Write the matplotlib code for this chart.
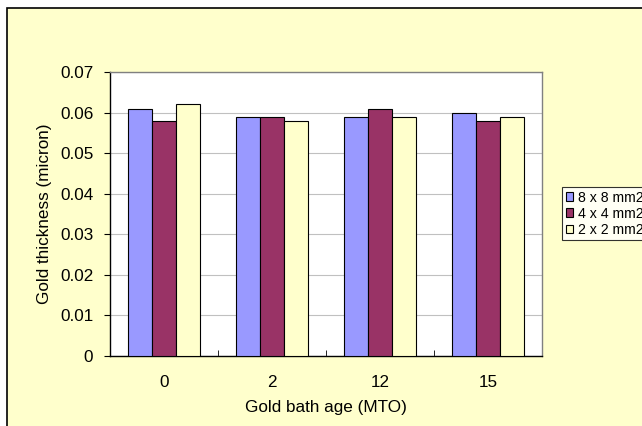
import numpy as np
import matplotlib.pyplot as plt
from matplotlib.patches import Rectangle

ages = ["0", "2", "12", "15"]
series = ["8 x 8 mm2", "4 x 4 mm2", "2 x 2 mm2"]
thick_8x8 = [0.061, 0.059, 0.059, 0.060]
thick_4x4 = [0.058, 0.059, 0.061, 0.058]
thick_2x2 = [0.062, 0.058, 0.059, 0.059]

colours = ["#9999FF", "#993366", "#FFFFCC"]

plt.rcParams["font.family"] = ["Liberation Sans", "DejaVu Sans"]

fig = plt.figure(figsize=(6.42, 4.26), dpi=100)
fig.patch.set_facecolor("white")

# yellow chart area with black border (cut off at right and bottom)
W, H = 642, 426
fig.add_artist(Rectangle((7 / W, -0.1), 1.2, (H - 8) / H + 0.1,
                         transform=fig.transFigure, facecolor="#FFFFCC",
                         edgecolor="black", linewidth=1.2, zorder=-5))

ax = fig.add_axes([110 / W, 1 - 356 / H, 432 / W, 284 / H])
ax.set_facecolor("white")

x = np.arange(len(ages))
w = 0.222
for i, (vals, col) in enumerate(zip([thick_8x8, thick_4x4, thick_2x2], colours)):
    ax.bar(x + (i - 1) * w, vals, w, color=col, edgecolor="black",
           linewidth=0.8, label=series[i], zorder=3)

ax.set_xlim(-0.5, len(ages) - 0.5)
ax.set_ylim(0, 0.07)
ax.set_yticks(np.arange(0, 0.071, 0.01))
ax.set_yticklabels(["0"] + [f"{v:.2f}" for v in np.arange(0.01, 0.071, 0.01)])
ax.yaxis.grid(True, color="#C0C0C0", linewidth=0.8, zorder=0)

ax.set_xticks(x)
ax.set_xticklabels(ages)
ax.set_xticks(np.arange(-0.5, len(ages) - 0.4, 1), minor=True)
ax.tick_params(axis="x", which="major", length=0, pad=14, labelsize=12.3)
ax.tick_params(axis="x", which="minor", direction="in", length=4, color="black")
ax.tick_params(axis="y", length=4, labelsize=12.3, pad=8)

for s in ["left", "bottom"]:
    ax.spines[s].set_color("black")
    ax.spines[s].set_linewidth(1.0)
for s in ["top", "right"]:
    ax.spines[s].set_color("#808080")
    ax.spines[s].set_linewidth(1.0)

ax.set_xlabel("Gold bath age (MTO)", fontsize=12.3, labelpad=7)
ax.set_ylabel("Gold thickness (micron)", fontsize=12.3, labelpad=6)

# legend runs past the right edge, as in the reference
leg = ax.legend(loc="upper left", bbox_to_anchor=(562 / W, 1 - 187 / H),
                bbox_transform=fig.transFigure, fontsize=10.2, frameon=True,
                fancybox=False, edgecolor="black", handlelength=0.55,
                handleheight=0.55, handletextpad=0.35, borderpad=0.25,
                labelspacing=0.15, borderaxespad=0)
leg.get_frame().set_linewidth(0.8)

fig.savefig("out.png", dpi=100)
